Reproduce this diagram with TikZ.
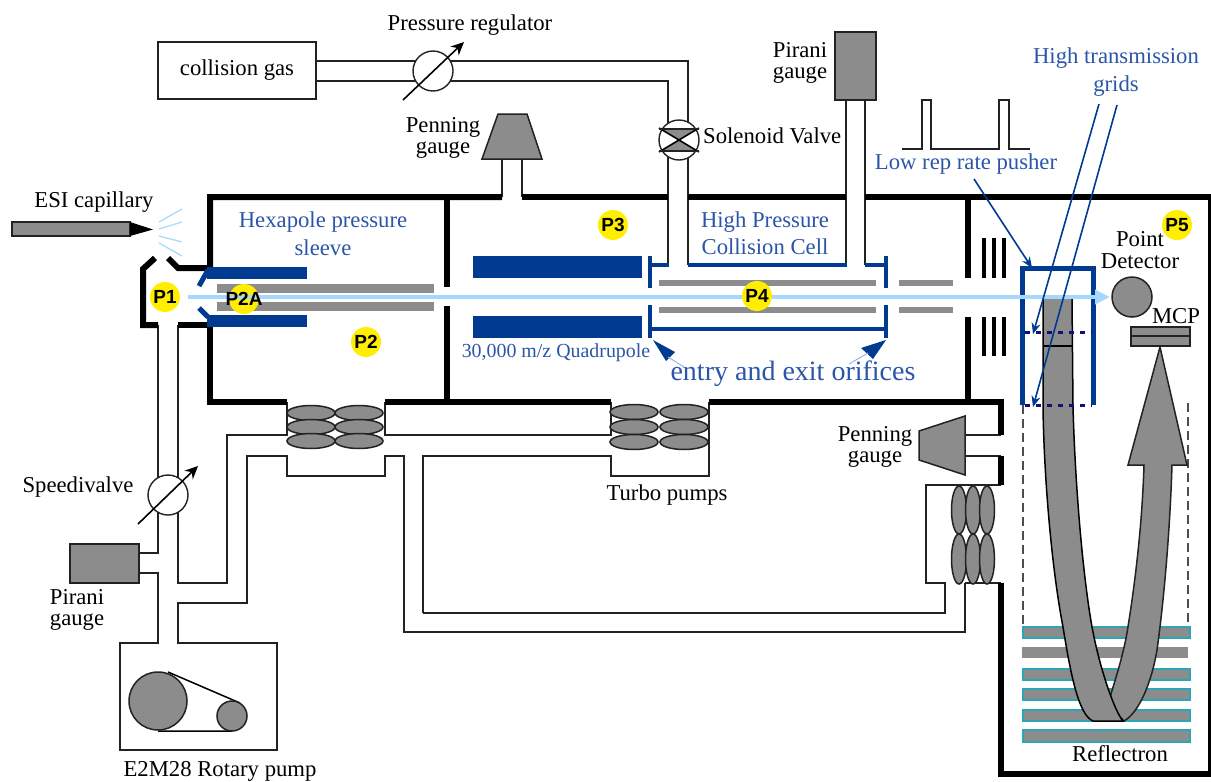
\documentclass[tikz,border=0pt]{standalone}
\usepackage{fontspec}
\setmainfont{Liberation Serif}
\newfontfamily\plabelfont{Liberation Sans}[BoldFont={Liberation Sans Bold}]
\usetikzlibrary{arrows.meta}
\definecolor{grayfill}{HTML}{8C8C8C}
\definecolor{deepblue}{HTML}{003A91}
\definecolor{textblue}{HTML}{2B55A8}
\definecolor{beamblue}{HTML}{A6D8FF}
\definecolor{sprayblue}{HTML}{A8DCF8}
\definecolor{pyellow}{HTML}{FFEE00}
\definecolor{plateteal}{HTML}{2CA6B6}
\definecolor{navydot}{HTML}{10107A}
\definecolor{inkline}{HTML}{222222}
\newcommand{\fs}[1]{\fontsize{#1}{#1}\selectfont}
\tikzset{
  wall/.style={draw=black,line width=6pt,miter limit=10},
  pipe/.style={draw=inkline,line width=1.3pt},
  gaugebody/.style={draw=inkline,line width=1.5pt,fill=grayfill},
  rod/.style={fill=grayfill,draw=none},
  bluebar/.style={fill=deepblue,draw=none},
  blueline/.style={draw=deepblue,line width=3.5pt},
  pointer/.style={draw=deepblue,line width=1.6pt,-{Stealth[length=11pt,width=9pt]}},
  valvearrow/.style={draw=black,line width=1.6pt,-{Stealth[length=13pt,width=12pt]}},
  blk/.style={text=black,inner sep=0pt,align=center,font=\fs{22.7}},
  blu/.style={text=textblue,inner sep=0pt,align=center,font=\fs{22.7}},
  pdot/.style={circle,fill=pyellow,minimum size=30pt,inner sep=0pt},
  ptext/.style={inner sep=0pt,font=\plabelfont\bfseries\fs{19}},
  plate/.style={fill=grayfill,draw=plateteal,line width=1.4pt},
  thinedge/.style={draw=inkline,line width=1.4pt},
}
\begin{document}
\begin{tikzpicture}[x=1pt,y=-1pt]
\useasboundingbox (0,0) rectangle (1211,782);

% ---------- thin pipework
\draw[pipe] (316,61) -- (688,61) -- (688,197);
\draw[pipe] (316,81) -- (668,81) -- (668,197);
\draw[pipe] (688,197) -- (688,265);
\draw[pipe] (668,197) -- (668,265);
\draw[pipe] (846,100) -- (846,265);
\draw[pipe] (865,100) -- (865,265);
\draw[pipe] (502,159) -- (502,197);
\draw[pipe] (522,159) -- (522,197);
\draw[pipe] (158,325) -- (158,553) -- (139,553);
\draw[pipe] (139,573) -- (158,573) -- (158,643) -- (120,643) -- (120,750) -- (277,750) -- (277,643) -- (178,643) -- (178,603) -- (247,603) -- (247,456) -- (287,456) -- (287,476) -- (385,476) -- (385,456) -- (404,456) -- (404,632) -- (965,632) -- (965,583);
\draw[pipe] (178,325) -- (178,583) -- (227,583) -- (227,435) -- (287,435) -- (287,402);
\draw[pipe] (385,402) -- (385,435) -- (611,435) -- (611,402);
\draw[pipe] (423,613) -- (423,456) -- (611,456) -- (611,476) -- (709,476) -- (709,402);
\draw[pipe] (423,613) -- (945,613) -- (945,583) -- (926,583) -- (926,485) -- (1001,485);
\draw[pipe] (965,583) -- (1001,583);
\draw[pipe] (965,435) -- (1001,435);
\draw[pipe] (965,456) -- (1001,456);

% ---------- thick walls
\draw[wall] (155,258) -- (143,269) -- (143,325) -- (158,325);
\draw[wall] (168,258) -- (178,268) -- (210,268) -- (210,197) -- (502,197);
\draw[wall] (522,197) -- (668,197);
\draw[wall] (688,197) -- (846,197);
\draw[wall] (865,197) -- (1211,197);
\draw[wall] (178,325) -- (210,325) -- (210,402) -- (287,402);
\draw[wall] (385,402) -- (611,402);
\draw[wall] (709,402) -- (1001,402) -- (1001,435);
\draw[wall] (447,197) -- (447,287);
\draw[wall] (447,306) -- (447,402);
\draw[wall] (968,197) -- (968,278);
\draw[wall] (968,317) -- (968,402);
\draw[wall] (1001,456) -- (1001,485);
\draw[wall] (1001,583) -- (1001,774) -- (1211,774);
\draw[wall] (1211,197) -- (1211,774);
\draw[draw=black,line width=4pt] (984,238) -- (984,278) (994,238) -- (994,278) (1003.5,238) -- (1003.5,278);
\draw[draw=black,line width=4pt] (984,317) -- (984,356) (994,317) -- (994,356) (1003.5,317) -- (1003.5,356);

% ---------- turbo pumps
\foreach \cx in {311,359} \foreach \cy in {413,427,441}
  \draw[gaugebody] (\cx,\cy) ellipse [x radius=24pt,y radius=7.5pt];
\foreach \cx in {634,684} \foreach \cy in {412,427,442}
  \draw[gaugebody] (\cx,\cy) ellipse [x radius=24pt,y radius=7.5pt];
\foreach \cx in {959,973,987} {
  \draw[gaugebody] (\cx,510) ellipse [x radius=7.5pt,y radius=24pt];
  \draw[gaugebody] (\cx,559) ellipse [x radius=7.5pt,y radius=25pt];
}

% ---------- gauges and boxes
\node[draw=inkline,line width=1.5pt,minimum width=158pt,minimum height=57pt,inner sep=0pt,text=black,font=\fs{22.7}] (gasbox) at (237,70.5) {collision gas};
\draw[gaugebody] (835,32) rectangle (876,100);
\draw[gaugebody] (70,544) rectangle (139,583);
\draw[gaugebody] (498,114) -- (527,114) -- (542,159) -- (482,159) -- cycle;
\draw[gaugebody] (919,431) -- (965,416) -- (965,475) -- (919,460) -- cycle;

% ---------- valves
\node[circle,draw=inkline,fill=white,line width=1.4pt,minimum size=40pt,inner sep=0pt] (regulator) at (433,71) {};
\node[circle,draw=inkline,fill=white,line width=1.4pt,minimum size=40pt,inner sep=0pt] (speedi) at (168,495) {};
\node[circle,draw=inkline,fill=white,line width=1.4pt,minimum size=40pt,inner sep=0pt] (solenoid) at (679,140) {};
\fill[grayfill] (660,129) -- (698,129) -- (660,151) -- (698,151) -- cycle;
\draw[draw=black,line width=1.6pt] (659,128) -- (699,152) (699,128) -- (659,152);
\draw[draw=inkline,line width=1.2pt] (659,129) -- (699,129) (659,151) -- (699,151);
\draw[valvearrow] (403,100) -- (464,42);
\draw[valvearrow] (138,524) -- (198,466);

% ---------- rotary pump
\draw[draw=black,line width=1.5pt] (168,672) -- (240,703) (158,731) -- (232,731);
\draw[gaugebody] (158,701) circle [radius=29pt];
\draw[gaugebody] (232,716) circle [radius=15pt];

% ---------- capillary and spray
\draw[fill=grayfill,draw=inkline,line width=1.2pt] (12,222) rectangle (130,236);
\fill[black] (130,222) -- (153,229.5) -- (130,236) -- cycle;
\draw[draw=sprayblue,line width=1.3pt] (159,222) -- (182,209) (159,229) -- (182,222) (159,236) -- (182,242) (159,243) -- (182,256);

% ---------- hexapole sleeve
\fill[bluebar] (207,267) rectangle (307,279);
\fill[bluebar] (207,315) rectangle (307,327);
\draw[draw=deepblue,line width=5pt] (208,270) -- (199,286);
\draw[draw=deepblue,line width=5pt] (208,317) -- (199,308);
\fill[rod] (217,284) rectangle (434,293);
\fill[rod] (217,302) rectangle (434,311);

% ---------- P2A disc lies over the rods and under the beam
\node[pdot] (p2a) at (244,299) {};

% ---------- quadrupole and cell
\fill[bluebar] (473,256) rectangle (642,278);
\fill[bluebar] (473,316) rectangle (642,338);
\draw[blueline] (650,256) -- (650,288);
\draw[blueline] (650,305) -- (650,338);
\draw[blueline] (886,256) -- (886,288);
\draw[blueline] (886,305) -- (886,338);
\draw[blueline] (650,265) -- (669,265);
\draw[blueline] (688,265) -- (847,265);
\draw[blueline] (865,265) -- (886,265);
\draw[blueline] (650,329) -- (886,329);
\fill[rod] (659,280) rectangle (876,286);
\fill[rod] (659,307) rectangle (876,313);
\fill[rod] (899,280) rectangle (953,286);
\fill[rod] (899,307) rectangle (953,313);
\fill[deepblue] (653,340) -- (675,352) -- (666,361) -- cycle;
\fill[deepblue] (886,340) -- (861,348) -- (873,359) -- cycle;
\draw[draw=textblue!45,line width=1pt] (668,357) -- (684,367);
\draw[draw=textblue!45,line width=1pt] (868,353) -- (849,364);

% ---------- reflectron
\foreach \ya/\yb in {627/638,669/680,689/700,710/721,730/742}
  \draw[plate] (1023,\ya) rectangle (1190,\yb);
\fill[grayfill] (1022,647) rectangle (1188,658);
\draw[draw=inkline!80,line width=1.3pt,dash pattern=on 9pt off 5pt] (1023,405) -- (1023,625);
\draw[draw=inkline!80,line width=1.3pt,dash pattern=on 9pt off 5pt] (1188,403) -- (1188,625);

% ---------- ion path
\draw[gaugebody] (1160,347) -- (1187,465) -- (1172,465) .. controls (1170,530) and (1164,600) .. (1157,650) .. controls (1152,680) and (1140,712) .. (1124,721) -- (1108,704) .. controls (1115,680) and (1122,660) .. (1127,633) .. controls (1134,590) and (1142,530) .. (1144,465) -- (1128,465) -- cycle;
\fill[grayfill] (1043,299) -- (1043,407) .. controls (1044,480) and (1052,570) .. (1063,627) .. controls (1070,670) and (1078,715) .. (1093,721) -- (1123,721) .. controls (1115,712) and (1100,670) .. (1092,627) .. controls (1082,570) and (1075,480) .. (1073,407) -- (1072,299) -- cycle;
\draw[draw=black,line width=1.5pt] (1043,299) -- (1043,407) .. controls (1044,480) and (1052,570) .. (1063,627) .. controls (1070,670) and (1078,715) .. (1093,721) -- (1123,721) .. controls (1115,712) and (1100,670) .. (1092,627) .. controls (1082,570) and (1075,480) .. (1073,407) -- (1072,299);
\draw[draw=black,line width=1.2pt] (1043,346) -- (1072,346);

% ---------- detector
\draw[gaugebody] (1132,297) circle [radius=20pt];
\draw[gaugebody] (1131,327) rectangle (1190,346);
\draw[draw=inkline,line width=1.3pt] (1131,336) -- (1190,336);

% ---------- pusher box
\draw[draw=deepblue,line width=5pt] (1022,405) -- (1022,268) -- (1093,268) -- (1093,405);
\draw[draw=navydot,line width=3pt,dash pattern=on 5pt off 6pt] (1025,332) -- (1092,332);
\draw[draw=navydot,line width=3pt,dash pattern=on 5pt off 6pt] (1025,405) -- (1092,405);

% ---------- beam
\draw[draw=beamblue,line width=4pt,-{Stealth[length=15pt,width=14pt,inset=0pt]}] (188,297) -- (1110,297);

% ---------- pulse train and pointers
\draw[draw=inkline,line width=1.3pt] (902,149) -- (922,149) -- (922,100) -- (931,100) -- (931,149) -- (999,149) -- (999,100) -- (1009,100) -- (1009,149) -- (1030,149);
\coordinate (pushstart) at (974,179);
\coordinate (pushend) at (1032,268);
\coordinate (gridstartA) at (1099,104);
\coordinate (gridendA) at (1033,334);
\coordinate (gridstartB) at (1117,105);
\coordinate (gridendB) at (1033,407);
\draw[pointer] (pushstart) -- (pushend);
\draw[pointer] (gridstartA) -- (gridendA);
\draw[pointer] (gridstartB) -- (gridendB);

% ---------- yellow markers
\node[pdot] (p1) at (165,297) {};
\node[pdot] (p2) at (366,342) {};
\node[pdot] (p3) at (613,225) {};
\node[pdot] (p4) at (757,296) {};
\node[pdot] (p5) at (1177,225) {};
\node[ptext] (tp1) at (p1) {P1};
\node[ptext] (tp2a) at (244,299) {P2A};
\node[ptext] (tp2) at (p2) {P2};
\node[ptext] (tp3) at (p3) {P3};
\node[ptext] (tp4) at (p4) {P4};
\node[ptext] (tp5) at (p5) {P5};

% ---------- labels
\node[blk] (lreg) at (470,25) {Pressure regulator};
\node[blk] (lpen1) at (443,138) {Penning\\[-1pt]gauge};
\node[blk,anchor=west] (lsol) at (703,136) {Solenoid Valve};
\node[blk] (lpir1) at (800,63) {Pirani\\[-1pt]gauge};
\node[blk] (lesi) at (94,202) {ESI capillary};
\node[blk] (lpen2) at (875,447) {Penning\\[-1pt]gauge};
\node[blk] (lturbo) at (667,495) {Turbo pumps};
\node[blk] (lspeed) at (78,487) {Speedivalve};
\node[blk] (lpir2) at (77,610) {Pirani\\[-1pt]gauge};
\node[blk] (lrot) at (220,771) {E2M28 Rotary pump};
\node[blk] (lrefl) at (1120,754) {Reflectron};
\node[blk] (lpoint) at (1140,250) {Point\\[-1pt]Detector};
\node[blk] (lmcp) at (1176,316) {MCP};
\node[blu] (lhex) at (323,234) {Hexapole pressure\\[5pt]sleeve};
\node[blu] (lcell) at (765,233) {High Pressure\\[4pt]Collision Cell};
\node[blu] (llow) at (966,164) {Low rep rate pusher};
\node[blu] (lgrid) at (1116,72) {High transmission\\[5pt]grids};
\node[blu,font=\fs{19.9}] (lquad) at (556,353) {30,000 m/z Quadrupole};
\node[blu,font=\fs{28}] (lentry) at (793,374) {entry and exit orifices};
\end{tikzpicture}
\end{document}
